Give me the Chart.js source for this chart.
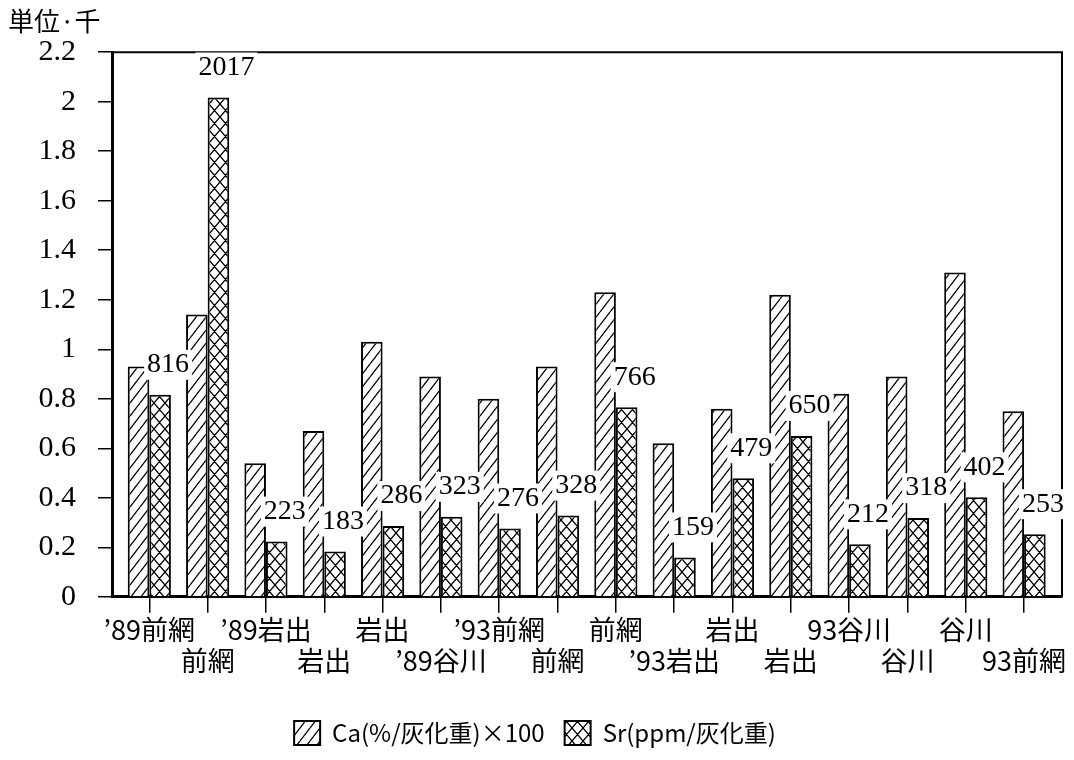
<!DOCTYPE html>
<html>
<head>
<meta charset="utf-8">
<script src="https://cdn.jsdelivr.net/npm/chart.js@4.4.0/dist/chart.umd.min.js"></script>
<style>
  html, body { margin: 0; padding: 0; background: #fff; }
  canvas { display: block; }
</style>
</head>
<body>
<canvas id="chart" width="1074" height="760"></canvas>
<script>
// ── Data ──────────────────────────────────────
const sites = ['’89前網', '前網', '’89岩出', '岩出', '岩出', '’89谷川', '’93前網', '前網',
               '前網', '’93岩出', '岩出', '岩出', '93谷川', '谷川', '谷川', '93前網'];
const caValues = [0.93, 1.14, 0.54, 0.67, 1.03, 0.89, 0.80, 0.93,
                  1.23, 0.62, 0.76, 1.22, 0.82, 0.89, 1.31, 0.75];   // Ca(%)×100, in thousands
const srValues = [816, 2017, 223, 183, 286, 323, 276, 328,
                  766, 159, 479, 650, 212, 318, 402, 253];           // Sr ppm
const yTicks = [0, 0.2, 0.4, 0.6, 0.8, 1, 1.2, 1.4, 1.6, 1.8, 2, 2.2];

const JP = '"Noto Sans CJK JP", sans-serif';
const NUM = '"Liberation Serif", serif';

// ── Hatch patterns ────────────────────────────
function makeHatch(w, h, cross) {
  const c = document.createElement('canvas');
  c.width = w; c.height = h;
  const g = c.getContext('2d');
  g.fillStyle = '#fff';
  g.fillRect(0, 0, w, h);
  g.strokeStyle = '#000';
  g.lineWidth = 1.3;
  g.beginPath();
  for (let k = -1; k <= 1; k++) {
    g.moveTo(k * w, h); g.lineTo(k * w + w, 0);
    if (cross) { g.moveTo(k * w, 0); g.lineTo(k * w + w, h); }
  }
  g.stroke();
  return g.createPattern(c, 'repeat');
}
const caPattern = makeHatch(10, 13, false);
const srPattern = makeHatch(11, 13, true);

// ── Plot frame (top / right edges) ────────────
const framePlugin = {
  id: 'frame',
  beforeDatasetsDraw(chart) {
    const { ctx, chartArea: a } = chart;
    ctx.save();
    ctx.strokeStyle = '#000';
    ctx.lineWidth = 2;
    ctx.beginPath();
    ctx.moveTo(a.left, a.top);
    ctx.lineTo(a.right, a.top);
    ctx.lineTo(a.right, a.bottom);
    ctx.stroke();
    ctx.restore();
  }
};

// ── Sr value labels with white boxes ──────────
const srLabelPlugin = {
  id: 'srLabels',
  afterDatasetsDraw(chart) {
    const { ctx } = chart;
    const meta = chart.getDatasetMeta(1);
    ctx.save();
    ctx.font = '28px ' + NUM;
    ctx.textAlign = 'center';
    ctx.textBaseline = 'middle';
    meta.data.forEach((bar, i) => {
      const txt = String(srValues[i]);
      const x = bar.x + 8;
      const y = bar.y - 31;
      const w = ctx.measureText(txt).width;
      ctx.fillStyle = '#fff';
      ctx.fillRect(x - w / 2 - 3, y - 14, w + 6, 30);
      ctx.fillStyle = '#000';
      ctx.fillText(txt, x, y + 1);
    });
    ctx.restore();
  }
};

new Chart(document.getElementById('chart'), {
  type: 'bar',
  data: {
    datasets: [
      {
        label: 'Ca(%/灰化重)×100',
        data: caValues.map((v, i) => ({ x: i, y: v })),
        backgroundColor: caPattern,
        borderColor: '#000',
        borderWidth: 2,
        categoryPercentage: 0.74,
        barPercentage: 1.0
      },
      {
        label: 'Sr(ppm/灰化重)',
        data: srValues.map((v, i) => ({ x: i, y: v / 1000 })),
        backgroundColor: srPattern,
        borderColor: '#000',
        borderWidth: 2,
        categoryPercentage: 0.74,
        barPercentage: 1.0
      }
    ]
  },
  options: {
    responsive: false,
    animation: false,
    devicePixelRatio: 1,
    layout: { padding: { left: 8, right: 12, top: 0, bottom: 5 } },
    scales: {
      x: {
        type: 'linear',
        min: -0.64,
        max: 15.65,
        offset: false,
        grid: { offset: false, drawOnChartArea: false, tickLength: 16, color: '#000', lineWidth: 1.5 },
        border: { display: true, color: '#000', width: 3 },
        ticks: {
          stepSize: 1,
          includeBounds: false,
          autoSkip: false,
          maxRotation: 0,
          padding: 1,
          color: '#000',
          font: { family: JP, size: 27, lineHeight: 1.17 },
          callback: v => {
            const name = sites[v];
            if (name === undefined) return '';
            return v % 2 === 0 ? [name] : ['', name];
          }
        },
        afterFit: scale => { scale.height += 23; }
      },
      y: {
        min: 0,
        max: 2.2,
        afterBuildTicks: axis => { axis.ticks = yTicks.map(v => ({ value: v })); },
        grid: { drawOnChartArea: false, tickLength: 14, color: '#000', lineWidth: 1.5 },
        border: { display: true, color: '#000', width: 3 },
        ticks: {
          padding: 22,
          color: '#000',
          font: { family: NUM, size: 30 },
          callback: v => String(Number(v.toFixed(1)))
        },
        afterFit: scale => { scale.width = 104; }
      }
    },
    plugins: {
      title: {
        display: true,
        text: '単位·千',
        align: 'start',
        color: '#000',
        font: { family: JP, size: 26, weight: 'normal' },
        padding: { top: 6, bottom: 15 }
      },
      legend: {
        position: 'bottom',
        labels: {
          color: '#000',
          font: { family: JP, size: 24 },
          boxWidth: 26,
          boxHeight: 24,
          padding: 20
        }
      },
      tooltip: { enabled: false }
    }
  },
  plugins: [framePlugin, srLabelPlugin]
});
</script>
</body>
</html>
